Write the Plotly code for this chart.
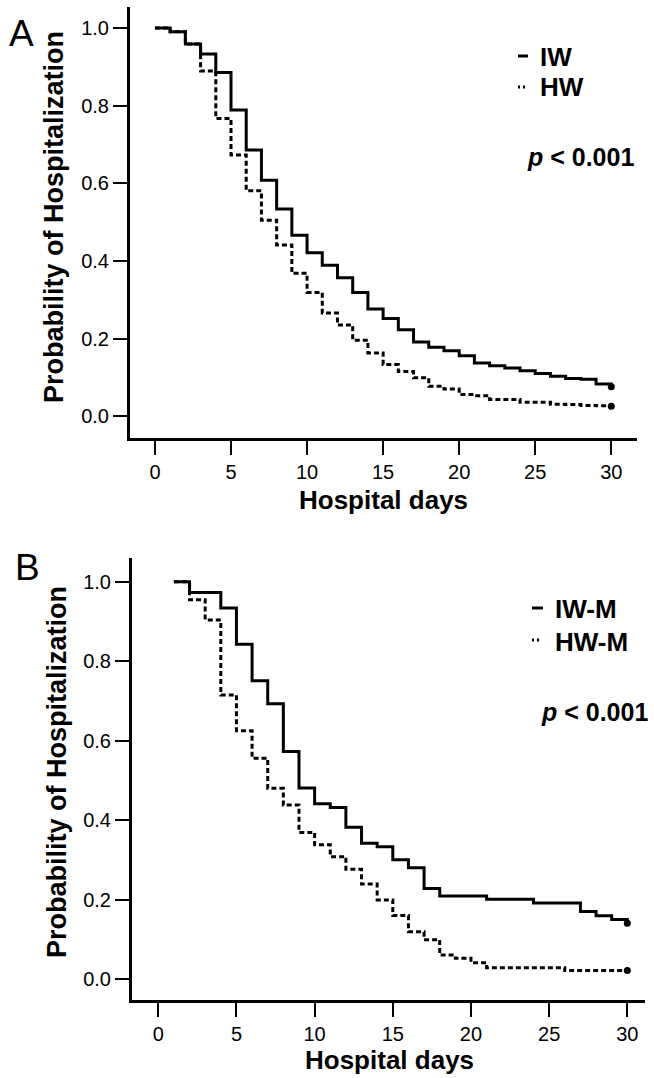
import plotly.graph_objects as go

# ---------------- data ----------------
days_a = list(range(0, 31))
iw = [1.000, 0.990, 0.959, 0.933, 0.885, 0.789, 0.686, 0.608, 0.534, 0.466,
      0.421, 0.389, 0.357, 0.319, 0.276, 0.252, 0.223, 0.191, 0.178, 0.169,
      0.156, 0.137, 0.130, 0.124, 0.117, 0.110, 0.103, 0.097, 0.095, 0.083,
      0.076]
hw = [1.000, 0.990, 0.959, 0.889, 0.767, 0.673, 0.581, 0.505, 0.441, 0.368,
      0.319, 0.266, 0.235, 0.196, 0.163, 0.133, 0.115, 0.099, 0.077, 0.070,
      0.056, 0.053, 0.043, 0.043, 0.036, 0.036, 0.031, 0.030, 0.028, 0.027,
      0.026]

days_b = list(range(1, 31))
iw_m = [1.000, 0.973, 0.973, 0.934, 0.843, 0.751, 0.693, 0.573, 0.481, 0.441,
        0.432, 0.382, 0.342, 0.333, 0.300, 0.280, 0.228, 0.209, 0.209, 0.209,
        0.201, 0.201, 0.201, 0.191, 0.191, 0.191, 0.170, 0.159, 0.150, 0.140]
hw_m = [1.000, 0.955, 0.904, 0.715, 0.625, 0.556, 0.480, 0.438, 0.369, 0.338,
        0.308, 0.276, 0.239, 0.199, 0.160, 0.119, 0.099, 0.060, 0.052, 0.041,
        0.028, 0.028, 0.028, 0.028, 0.028, 0.021, 0.021, 0.021, 0.021, 0.021]

x_ticks = [0, 5, 10, 15, 20, 25, 30]
y_ticks = [0.0, 0.2, 0.4, 0.6, 0.8, 1.0]

labels_a = ["IW", "HW"]
labels_b = ["IW-M", "HW-M"]
p_text = "<b><i>p</i> < 0.001</b>"
x_title = "Hospital days"
y_title = "Probability of Hospitalization"

# ---------------- layout helpers ----------------
W, H = 654, 1078
FONT = "Liberation Sans, Arial, Helvetica, sans-serif"


def px(x):
    return x / W


def py(y):
    return 1 - y / H


fig = go.Figure()


def add_curve(x, y, dash, xa, ya, name):
    fig.add_trace(go.Scatter(
        x=x, y=y, mode="lines", name=name,
        line=dict(color="black", width=3, shape="hv", dash=dash),
        xaxis=xa, yaxis=ya, showlegend=False, hoverinfo="skip"))
    fig.add_trace(go.Scatter(
        x=[x[-1]], y=[y[-1]], mode="markers", name=name + " censored",
        marker=dict(color="black", size=7, symbol="circle"),
        xaxis=xa, yaxis=ya, showlegend=False, hoverinfo="skip"))


add_curve(days_a, iw, "solid", "x", "y", labels_a[0])
add_curve(days_a, hw, "5px,3px", "x", "y", labels_a[1])
add_curve(days_b, iw_m, "solid", "x2", "y2", labels_b[0])
add_curve(days_b, hw_m, "5px,3px", "x2", "y2", labels_b[1])

axis_common = dict(
    showline=True, linewidth=3, linecolor="black", mirror=False,
    ticks="outside", ticklen=14, tickwidth=2, tickcolor="black",
    showgrid=False, zeroline=False,
    tickfont=dict(family=FONT, size=20, color="black"),
)

fig.update_layout(
    width=W, height=H,
    margin=dict(l=0, r=0, t=0, b=0),
    paper_bgcolor="white", plot_bgcolor="white",
    showlegend=False,
    xaxis=dict(domain=[px(130), px(637)], anchor="y",
               range=[-1.64, 31.69], tickvals=x_ticks, **axis_common),
    yaxis=dict(domain=[py(438), py(7)], anchor="x",
               range=[-0.056, 1.054], tickvals=y_ticks, tickformat=".1f",
               **axis_common),
    xaxis2=dict(domain=[px(132), px(645)], anchor="y2",
                range=[-1.68, 31.13], tickvals=x_ticks, **axis_common),
    yaxis2=dict(domain=[py(1000), py(558)], anchor="x2",
                range=[-0.053, 1.060], tickvals=y_ticks, tickformat=".1f",
                **axis_common),
)


def note(text, x, y, size, xanchor="center", yanchor="middle", angle=0):
    fig.add_annotation(
        text=text, x=px(x), y=py(y), xref="paper", yref="paper",
        showarrow=False, xanchor=xanchor, yanchor=yanchor, textangle=angle,
        font=dict(family=FONT, size=size, color="black"))


# panel letters
note("A", 21, 34, 37)
note("B", 27, 567, 37)

# axis titles
note("<b>" + x_title + "</b>", 383, 500, 26)
note("<b>" + x_title + "</b>", 389, 1060, 26)
note("<b>" + y_title + "</b>", 54, 217, 27, angle=-90)
note("<b>" + y_title + "</b>", 57, 772, 27, angle=-90)

# legend texts
note("<b>" + labels_a[0] + "</b>", 538, 57, 26, xanchor="left")
note("<b>" + labels_a[1] + "</b>", 538, 87, 26, xanchor="left")
note("<b>" + labels_b[0] + "</b>", 553, 609, 26, xanchor="left")
note("<b>" + labels_b[1] + "</b>", 553, 642, 26, xanchor="left")

# p-values
note(p_text, 636, 157, 25, xanchor="right")
note(p_text, 650, 712, 25, xanchor="right")

# legend glyphs
def glyph(x0, x1, y, dash):
    fig.add_shape(type="line", xref="paper", yref="paper",
                  x0=px(x0), x1=px(x1), y0=py(y), y1=py(y),
                  line=dict(color="black", width=3, dash=dash))


glyph(518, 528, 56, "solid")
glyph(518, 527, 87, "2px,3px")
glyph(532, 543, 608, "solid")
glyph(532, 542, 640, "2px,3px")

fig.write_html("out.html",
               config={"displayModeBar": False},
               post_script="document.body.style.margin='0';"
                           "document.body.style.overflow='hidden';")
